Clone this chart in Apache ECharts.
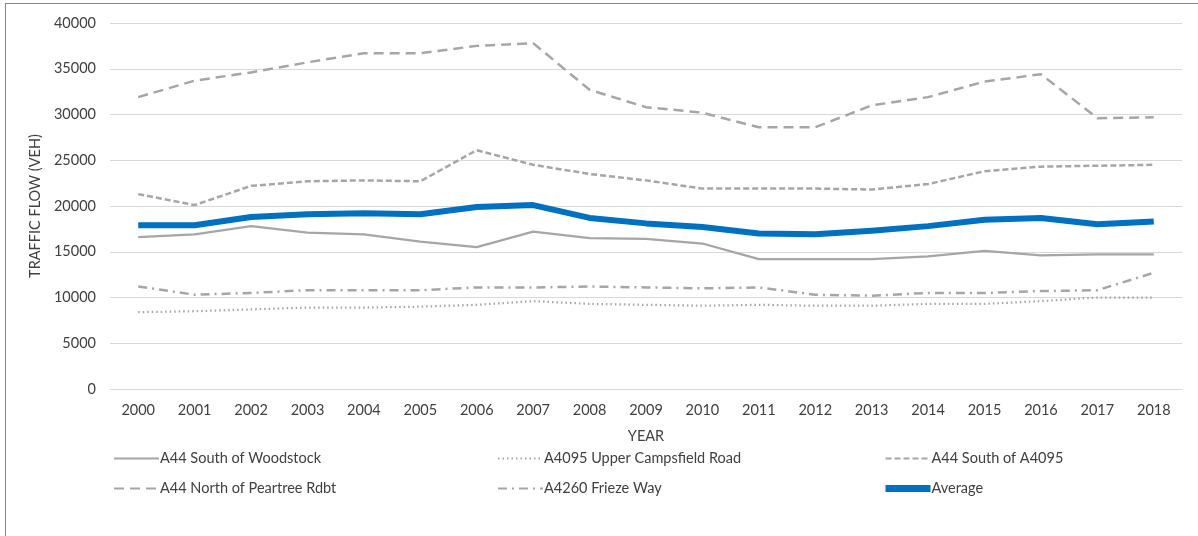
<!DOCTYPE html>
<html>
<head>
<meta charset="utf-8">
<script src="https://cdn.jsdelivr.net/npm/echarts@6/dist/echarts.min.js"></script>
<style>
html,body{margin:0;padding:0;background:#fff;overflow:hidden;}
#frame{position:absolute;left:5px;top:3px;width:1300px;height:700px;border:1px solid #7d8896;box-sizing:border-box;}
#chart{position:absolute;left:0;top:0;width:1198px;height:536px;}
</style>
</head>
<body>
<div id="frame"></div>
<div id="chart"></div>
<script>
var years = ['2000','2001','2002','2003','2004','2005','2006','2007','2008','2009','2010','2011','2012','2013','2014','2015','2016','2017','2018'];
var woodstock = [16600,16900,17800,17100,16900,16100,15500,17200,16500,16400,15900,14200,14200,14200,14500,15100,14600,14700,14700];
var upperCampsfield = [8400,8500,8700,8900,8900,9000,9200,9600,9300,9200,9100,9200,9100,9100,9300,9300,9600,10000,10000];
var southA4095 = [21300,20100,22200,22700,22800,22700,26100,24500,23500,22800,21900,21900,21900,21800,22400,23800,24300,24400,24500];
var northPeartree = [31900,33700,34600,35700,36700,36700,37500,37800,32700,30800,30200,28600,28600,31000,31900,33600,34400,29600,29700];
var friezeWay = [11200,10300,10500,10800,10800,10800,11100,11100,11200,11100,11000,11100,10300,10200,10500,10500,10700,10800,12700];
var average = [17900,17900,18800,19100,19200,19100,19900,20100,18700,18100,17700,17000,16900,17300,17800,18500,18700,18000,18300];

var FONT = 'Lato, Open Sans, sans-serif';
var FS = 14.5;
var TXT = '#404040';
var GREY = '#a6a6a6';

var chart = echarts.init(document.getElementById('chart'));
function ser(name, data, type, width, color, z){
  return {name:name, type:'line', data:data, symbol:'none', showSymbol:false, z:z||2,
    lineStyle:{color:color||GREY, width:width, type:type, cap:'butt', join:'round'},
    itemStyle:{color:color||GREY}};
}
function leg(left, names){
  return {left:left, top:446, orient:'vertical', itemGap:15, itemWidth:45, itemHeight:14,
    data:names, itemStyle:{opacity:0},
    textStyle:{color:TXT, fontFamily:FONT, fontSize:FS, padding:[0,0,0,-4]}};
}
chart.setOption({
  animation:false,
  grid:{left:110, right:16, top:23, bottom:147},
  legend:[
    leg(108, ['A44 South of Woodstock','A44 North of Peartree Rdbt']),
    leg(492, ['A4095 Upper Campsfield Road','A4260 Frieze Way']),
    leg(877, ['A44 South of A4095', {name:'Average', lineStyle:{width:7}}])
  ],
  xAxis:{type:'category', data:years, boundaryGap:true,
    name:'YEAR', nameLocation:'middle', nameGap:40,
    nameTextStyle:{color:TXT, fontFamily:FONT, fontSize:FS},
    axisLine:{show:true, lineStyle:{color:'#d9d9d9'}}, axisTick:{show:false},
    axisLabel:{color:TXT, fontFamily:FONT, fontSize:FS, margin:14}},
  yAxis:{type:'value', min:0, max:40000, interval:5000,
    name:'TRAFFIC FLOW (VEH)', nameLocation:'middle', nameGap:64, nameRotate:90,
    nameTextStyle:{color:TXT, fontFamily:FONT, fontSize:FS},
    axisLine:{show:false}, axisTick:{show:false},
    axisLabel:{color:TXT, fontFamily:FONT, fontSize:FS, margin:14, formatter:function(v){return String(v);}},
    splitLine:{lineStyle:{color:'#d9d9d9', width:1}}},
  series:[
    ser('A44 South of Woodstock', woodstock, 'solid', 2.25),
    ser('A4095 Upper Campsfield Road', upperCampsfield, [1.5,3], 2.25),
    ser('A44 South of A4095', southA4095, [6,3], 2.5),
    ser('A44 North of Peartree Rdbt', northPeartree, [10,6], 2.5),
    ser('A4260 Frieze Way', friezeWay, [9,5,2,5], 2.5),
    ser('Average', average, 'solid', 6, '#0070c0', 5)
  ]
});
</script>
</body>
</html>
